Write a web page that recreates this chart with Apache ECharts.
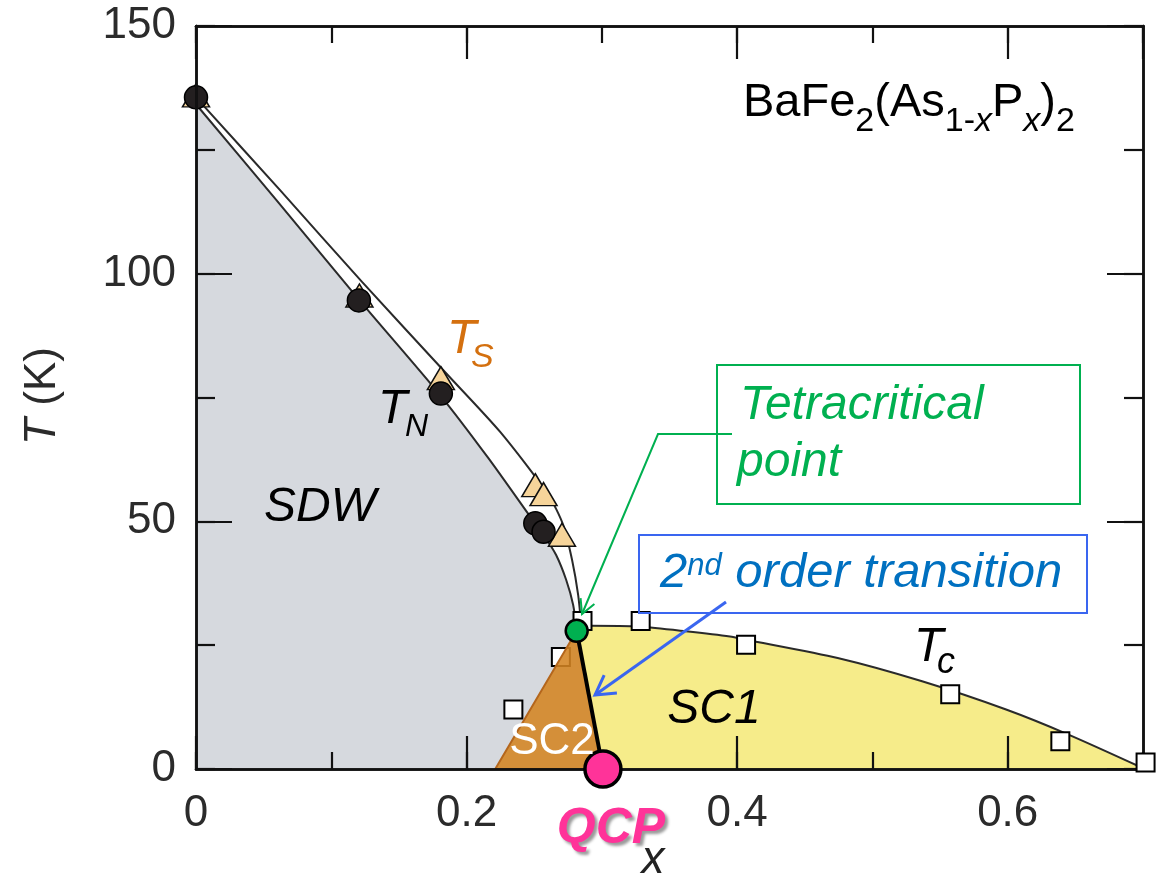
<!DOCTYPE html>
<html>
<head>
<meta charset="utf-8">
<title>BaFe2(As1-xPx)2 phase diagram</title>
<script src="https://cdn.jsdelivr.net/npm/echarts@6/dist/echarts.min.js"></script>
<style>
  html, body { margin: 0; padding: 0; background: #ffffff; }
  #chart { width: 1162px; height: 878px; }
</style>
</head>
<body>
<div id="chart"></div>
<script>
const FONT = '"Liberation Sans", Arial, Helvetica, sans-serif';

// ---- tick labels ----
const xTickLabels = ['0', '0.2', '0.4', '0.6'];
const yTickLabels = ['0', '50', '100', '150'];

// ---- measured transitions ----
// Neel temperature T_N (filled circles)
const tnX = [0, 0.1204, 0.1810, 0.2508, 0.2569];
const tnT = [135.6, 94.6, 75.8, 49.6, 47.9];
// structural transition T_S (triangles)
const tsX = [0, 0.1208, 0.1810, 0.2508, 0.2569, 0.2705];
const tsT = [136.0, 95.6, 78.9, 57.3, 55.5, 47.3];
// superconducting Tc (open squares), SC2 side and SC1 side
const tcSC2X = [0.2346, 0.2697];
const tcSC2T = [12.0, 22.6];
const tcSC1X = [0.2857, 0.3287, 0.4066, 0.5575, 0.6389, 0.7019];
const tcSC1T = [29.9, 29.9, 25.1, 15.1, 5.6, 1.3];
// special points
const tetraX = [0.2814];
const tetraT = [27.9];
const qcpX = [0.3008];
const qcpT = [0];

// ---- phase boundaries ----
const tnLineX = [0, 0.0593, 0.1206, 0.1810, 0.2160, 0.2508, 0.2581, 0.2662, 0.2736, 0.2788, 0.2814];
const tnLineT = [134.2, 114.9, 94.7, 75.3, 62.8, 49.5, 46.8, 43.2, 38.2, 33.1, 27.9];
const tsLineX = [0.002, 0.0623, 0.1229, 0.1842, 0.2250, 0.2605, 0.2714, 0.2780, 0.2825, 0.2847];
const tsLineT = [135.0, 116.8, 98.3, 80.1, 68.0, 55.3, 49.3, 42.2, 35.1, 29.1];
const tcLineX = [0.2835, 0.2919, 0.3283, 0.3620, 0.3947, 0.4066, 0.4743, 0.5367, 0.5988, 0.6453, 0.6990];
const tcLineT = [28.9, 28.9, 28.7, 27.8, 26.75, 26.1, 22.4, 17.7, 12.0, 6.9, 0.3];
// SC2 dome: left foot on the x axis, apex at the tetracritical point, right foot at the QCP
const sc2X = [0.2212, 0.2814, 0.3008];
const sc2T = [0, 27.9, 0];

const zip = (xs, ys) => xs.map((x, i) => [x, ys[i]]);

// closed outlines of the shaded phases
const sdwRegion = [[0, 0]].concat(zip(tnLineX, tnLineT), [[qcpX[0], qcpT[0]]]);
const sc1Region = [[qcpX[0], qcpT[0]], [tetraX[0], tetraT[0]]]
  .concat(zip(tcLineX, tcLineT), [[tcLineX[tcLineX.length - 1], 0]]);
const sc2Region = zip(sc2X, sc2T);

// filled phase area; smoothing of the curved edge follows the boundary line
function regionSeries(name, points, style, z, smooth) {
  return {
    name, type: 'custom', coordinateSystem: 'cartesian2d',
    xAxisIndex: 0, yAxisIndex: 0, data: points, encode: { x: 0, y: 1 },
    z, silent: true, clip: false,
    renderItem(params, api) {
      if (params.dataIndex !== 0) return;
      return { type: 'polygon', shape: { points: points.map(p => api.coord(p)) }, style };
    }
  };
}

function boundary(name, xs, ys) {
  return {
    name, type: 'line', data: zip(xs, ys), symbol: 'none', z: 2, silent: true,
    smooth: 0.25, lineStyle: { color: '#2a2a2a', width: 2 }
  };
}

function xAx(position, interval, len, labels) {
  return {
    type: 'value', min: 0, max: 0.7, interval, position, z: 10,
    axisLine: { show: true, onZero: false, lineStyle: { color: '#111', width: 2.5 } },
    axisTick: { show: true, inside: true, length: len, lineStyle: { color: '#111', width: 2.2 } },
    axisLabel: labels ? {
      show: true, margin: 23, fontSize: 44, fontFamily: FONT, color: '#2b2b2b',
      showMaxLabel: false,
      formatter: v => xTickLabels[Math.round(v / 0.2)] || ''
    } : { show: false },
    splitLine: { show: false }
  };
}
function yAx(position, interval, len, labels) {
  return {
    type: 'value', min: 0, max: 150, interval, position, z: 10,
    axisLine: { show: true, onZero: false, lineStyle: { color: '#111', width: 2.5 } },
    axisTick: { show: true, inside: true, length: len, lineStyle: { color: '#111', width: 2.2 } },
    axisLabel: labels ? {
      show: true, margin: 20, fontSize: 44, fontFamily: FONT, color: '#2b2b2b',
      formatter: v => yTickLabels[Math.round(v / 50)] || ''
    } : { show: false },
    splitLine: { show: false }
  };
}

function arrowHead(from, to, len, deg) {
  const dx = from[0] - to[0], dy = from[1] - to[1];
  const l = Math.hypot(dx, dy), bx = dx / l, by = dy / l;
  const a = deg * Math.PI / 180, c = Math.cos(a), s = Math.sin(a);
  return [
    [to[0] + len * (bx * c - by * s), to[1] + len * (bx * s + by * c)],
    to,
    [to[0] + len * (bx * c + by * s), to[1] + len * (-bx * s + by * c)]
  ];
}

function txt(text, x, y, size, opts) {
  opts = opts || {};
  return {
    type: 'text', x, y, z: 100, rotation: opts.rotation || 0,
    style: {
      text, fontSize: size, fontFamily: FONT,
      fontStyle: opts.italic ? 'italic' : 'normal',
      fontWeight: opts.bold ? 'bold' : 'normal',
      fill: opts.color || '#000',
      align: opts.align || 'left', verticalAlign: 'middle',
      textShadowColor: opts.shadow ? 'rgba(0,0,0,0.4)' : undefined,
      textShadowBlur: opts.shadow ? 3 : undefined,
      textShadowOffsetX: opts.shadow ? 3 : undefined,
      textShadowOffsetY: opts.shadow ? 3 : undefined,
      rich: opts.rich
    }
  };
}

const tok = (size, extra) => Object.assign({ fontSize: size, fontFamily: FONT, fill: '#000' }, extra || {});

const greenPath = [[732, 434], [658, 434], [582, 614]];
const bluePath = [[726, 602], [595, 695]];

const option = {
  animation: false,
  backgroundColor: '#ffffff',
  grid: { left: 196, right: 19, top: 26, bottom: 109, containLabel: false, outerBoundsMode: 'none' },
  xAxis: [xAx('bottom', 0.2, 33, true), xAx('bottom', 0.1, 17, false), xAx('top', 0.2, 33, false), xAx('top', 0.1, 17, false)],
  yAxis: [yAx('left', 50, 36, true), yAx('left', 25, 19, false), yAx('right', 50, 36, false), yAx('right', 25, 19, false)],
  series: [
    regionSeries('SDW', sdwRegion, { fill: '#d6d9de' }, 1),
    regionSeries('SC1', sc1Region, { fill: '#f6ec8a' }, 1),
    boundary('T_N line', tnLineX, tnLineT),
    boundary('T_S line', tsLineX, tsLineT),
    boundary('Tc line', tcLineX, tcLineT),
    { name: 'Tc SC2', type: 'scatter', data: zip(tcSC2X, tcSC2T), symbol: 'rect', symbolSize: 18, z: 3, clip: false,
      itemStyle: { color: '#ffffff', borderColor: '#000', borderWidth: 2, opacity: 1 } },
    regionSeries('SC2', sc2Region, { fill: 'rgba(212,132,34,0.88)', stroke: '#b4661c', lineWidth: 2 }, 4),
    { name: 'second order', type: 'line', data: [[tetraX[0], tetraT[0]], [qcpX[0], qcpT[0]]], symbol: 'none',
      z: 5, silent: true, lineStyle: { color: '#000', width: 4 } },
    { name: 'T_S', type: 'scatter', data: zip(tsX, tsT), symbol: 'triangle', symbolSize: [27, 23], z: 6, clip: false,
      itemStyle: { color: '#f6d49a', borderColor: '#111', borderWidth: 1.5, opacity: 1 } },
    { name: 'T_N', type: 'scatter', data: zip(tnX, tnT), symbol: 'circle', symbolSize: 23, z: 7, clip: false,
      itemStyle: { color: '#231f20', borderColor: '#000', borderWidth: 1.5, opacity: 1 } },
    { name: 'Tc SC1', type: 'scatter', data: zip(tcSC1X, tcSC1T), symbol: 'rect', symbolSize: 18, z: 11, clip: false,
      itemStyle: { color: '#ffffff', borderColor: '#000', borderWidth: 2, opacity: 1 } },
    { name: 'tetracritical', type: 'scatter', data: zip(tetraX, tetraT), symbol: 'circle', symbolSize: 22, z: 12, clip: false,
      itemStyle: { color: '#00b050', borderColor: '#000', borderWidth: 2.5, opacity: 1 } },
    { name: 'QCP', type: 'scatter', data: zip(qcpX, qcpT), symbol: 'circle', symbolSize: 36, z: 12, clip: false,
      itemStyle: { color: '#ff3399', borderColor: '#000', borderWidth: 3.5, opacity: 1 } }
  ],
  graphic: {
    elements: [
      // compound formula
      txt('{m|BaFe}{s|2}{m|(As}{s|1-}{si|x}{m|P}{si|x}{m|)}{s|2}', 743, 103, 46, {
        rich: {
          m: tok(47),
          s: tok(34, { padding: [38, 0, 0, 0] }),
          si: tok(34, { fontStyle: 'italic', padding: [38, 0, 0, 0] })
        }
      }),
      // axis titles
      txt('{i|T}{n| (K)}', 43, 396, 44, {
        align: 'center', rotation: Math.PI / 2,
        rich: { i: tok(44, { fontStyle: 'italic', fill: '#2b2b2b' }), n: tok(44, { fill: '#2b2b2b' }) }
      }),
      txt('x', 653, 860, 46, { italic: true, align: 'center', color: '#222' }),
      // phase labels
      txt('SDW', 320, 508, 48, { italic: true, align: 'center' }),
      txt('T', 378, 410, 48, { italic: true }),
      txt('N', 405, 427, 32, { italic: true }),
      txt('T', 447, 340, 48, { italic: true, color: '#d4700f' }),
      txt('S', 471, 358, 34, { italic: true, color: '#d4700f' }),
      txt('T', 914, 648, 48, { italic: true }),
      txt('c', 937, 663, 36, { italic: true }),
      txt('SC1', 714, 710, 48, { italic: true, align: 'center' }),
      txt('SC2', 552, 742, 44, { align: 'center', color: '#ffffff' }),
      txt('QCP', 611, 829, 50, { italic: true, bold: true, align: 'center', color: '#ff3399', shadow: true }),
      // tetracritical point callout
      { type: 'rect', z: 100, shape: { x: 717, y: 365, width: 363, height: 139 },
        style: { fill: 'rgba(0,0,0,0)', stroke: '#00b050', lineWidth: 2 } },
      txt('Tetracritical', 740, 406, 48, { italic: true, color: '#00b050' }),
      txt('point', 737, 463, 48, { italic: true, color: '#00b050' }),
      { type: 'polyline', z: 100, shape: { points: greenPath },
        style: { fill: null, stroke: '#00b050', lineWidth: 2 } },
      { type: 'polyline', z: 100, shape: { points: arrowHead(greenPath[1], greenPath[2], 16, 28) },
        style: { fill: null, stroke: '#00b050', lineWidth: 2 } },
      // second order transition callout
      { type: 'rect', z: 100, shape: { x: 639, y: 535, width: 448, height: 78 },
        style: { fill: 'rgba(0,0,0,0)', stroke: '#3a66f0', lineWidth: 2 } },
      txt('{m|2}{u|nd}{m| order transition}', 660, 573, 49, {
        rich: {
          m: tok(49, { fontStyle: 'italic', fill: '#0070c0' }),
          u: tok(31, { fontStyle: 'italic', fill: '#0070c0', padding: [0, 0, 14, 0] })
        }
      }),
      { type: 'polyline', z: 100, shape: { points: bluePath },
        style: { fill: null, stroke: '#3a66f0', lineWidth: 3 } },
      { type: 'polyline', z: 100, shape: { points: arrowHead(bluePath[0], bluePath[1], 22, 30) },
        style: { fill: null, stroke: '#3a66f0', lineWidth: 3 } }
    ]
  }
};

const chart = echarts.init(document.getElementById('chart'), null, { renderer: 'canvas' });
chart.setOption(option);
</script>
</body>
</html>
